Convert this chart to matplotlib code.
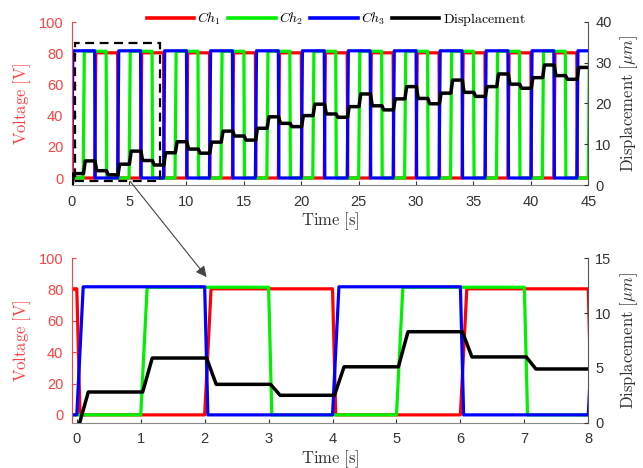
import numpy as np
import matplotlib.pyplot as plt
from matplotlib.patches import Rectangle, ConnectionPatch

plt.rcParams['mathtext.fontset'] = 'cm'
plt.rcParams['font.family'] = ['Liberation Sans', 'DejaVu Sans']

# switching instants of the three channels [s]
ch1_edges = [0, 2, 4, 6, 8, 10, 12, 14, 16, 18, 20, 22, 24, 26, 28, 30, 32, 34, 36, 38, 40, 42, 44]
ch2_edges = [1, 3, 5, 7, 9, 11, 13, 15, 17, 19, 21, 23, 25, 27, 29, 31, 33, 35, 37, 39, 41, 43, 45]
ch3_edges = [0, 2, 4, 6, 8, 10, 12, 14, 16, 18, 20, 22, 24, 26, 28, 30, 32, 34, 36, 38, 40, 42, 44]
# level before the first edge and the "on" voltage [V]
ch1_start, ch1_high = 80.5, 80.5
ch2_start, ch2_high = 0.0, 81.5
ch3_start, ch3_high = 0.0, 81.8

# displacement plateau for each second 0..44 [um]
disp_start = -0.3
disp_levels = [2.8, 5.9, 3.5, 2.5, 5.1, 8.3, 6.0, 4.9,
               7.9, 10.6, 8.8, 7.8, 10.5, 13.2, 12.0, 11.0,
               13.9, 16.7, 15.1, 14.3, 17.0, 19.8, 17.4, 16.6,
               19.2, 22.3, 19.4, 18.4, 21.1, 24.1, 21.2, 19.9,
               22.5, 25.7, 22.7, 21.7, 24.1, 27.2, 24.7, 23.7,
               26.3, 29.4, 26.8, 25.9, 28.8]
disp_times = list(range(len(disp_levels)))

RED, GREEN, BLUE = '#ff0000', '#00f000', '#0000ff'
AXRED = '#ff4040'
GRAY = '#333333'


def square_wave(edges, start, high, t0=-0.1, t1=45.5, rise=0.1, fall=0.05):
    t, v = [t0], [start]
    level = start
    for e in edges:
        new = 0.0 if level > 0 else high
        t += [e, e + (fall if new == 0 else rise)]
        v += [level, new]
        level = new
    t.append(t1)
    v.append(level)
    return t, v


def steps(times, levels, start, t1=45.5, ramp=0.15):
    t, v = [times[0]], [start]
    level = start
    for tt, lv in zip(times, levels):
        t += [tt + 0.03, tt + 0.03 + ramp]
        v += [level, lv]
        level = lv
    t.append(t1)
    v.append(level)
    return t, v


def draw_panel(ax, xlim, xticks, ylim_l, ylim_r, yticks_r):
    for edges, start, high, col, lab in [(ch1_edges, ch1_start, ch1_high, RED, '$Ch_1$'),
                                         (ch2_edges, ch2_start, ch2_high, GREEN, '$Ch_2$'),
                                         (ch3_edges, ch3_start, ch3_high, BLUE, '$Ch_3$')]:
        t, v = square_wave(edges, start, high)
        ax.plot(t, v, color=col, lw=2.3, label=lab)
    ax.set_xlim(*xlim)
    ax.set_ylim(*ylim_l)
    ax.set_xticks(xticks)
    ax.set_yticks([0, 20, 40, 60, 80, 100])
    ax.set_ylabel(r'$\mathrm{Voltage\ [V]}$', color=AXRED, fontsize=12, labelpad=4)
    ax.set_xlabel(r'$\mathrm{Time\ [s]}$', color=GRAY, fontsize=12, labelpad=1)
    ax.tick_params(axis='y', colors=AXRED, direction='in', length=3, labelsize=10.5, pad=6)
    ax.tick_params(axis='x', colors=GRAY, direction='in', length=3, labelsize=10.5, pad=7)
    ax.spines['left'].set_color(AXRED)
    ax.spines['bottom'].set_color('#888888')
    ax.spines['top'].set_visible(False)
    ax.spines['right'].set_visible(False)

    ax2 = ax.twinx()
    t, d = steps(disp_times, disp_levels, disp_start)
    ax2.plot(t, d, color='k', lw=2.5, label=r'$\mathrm{Displacement}$')
    ax2.set_ylim(*ylim_r)
    ax2.set_yticks(yticks_r)
    ax2.set_ylabel(r'$\mathrm{Displacement\ [}\mu m\mathrm{]}$', color=GRAY, fontsize=12, labelpad=5)
    ax2.tick_params(axis='y', colors=GRAY, direction='in', length=3, labelsize=10.5, pad=5)
    ax2.spines['right'].set_color('#555555')
    ax2.spines['top'].set_visible(False)
    ax2.spines['left'].set_visible(False)
    ax2.spines['bottom'].set_visible(False)
    return ax2


fig = plt.figure(figsize=(6.43, 4.68), dpi=100)
ax_top = fig.add_axes([0.1115, 0.6047, 0.8034, 0.3489])
ax_bot = fig.add_axes([0.1115, 0.0968, 0.8034, 0.3513])

ax_top2 = draw_panel(ax_top, (0, 45), list(range(0, 46, 5)), (-4.5, 100.5), (0, 40), [0, 10, 20, 30, 40])
ax_bot2 = draw_panel(ax_bot, (-0.08, 8), list(range(0, 9)), (-5, 100), (0, 15), [0, 5, 10, 15])

h1, l1 = ax_top.get_legend_handles_labels()
h2, l2 = ax_top2.get_legend_handles_labels()
leg = ax_top2.legend(h1 + h2, l1 + l2, loc='center', bbox_to_anchor=(0.512, 1.013), ncol=4,
                     frameon=False, fontsize=10, handlelength=3.4, handletextpad=0.25,
                     columnspacing=0.5, borderaxespad=0)
for line in leg.get_lines():
    line.set_linewidth(2.6)

# zoom window (t0, t1, v0, v1) and arrow to the detail panel
zoom_box = (0.3, 7.7, -2.2, 86.8)
ax_top2.add_patch(Rectangle((zoom_box[0], zoom_box[2]), zoom_box[1] - zoom_box[0],
                            zoom_box[3] - zoom_box[2], transform=ax_top.transData,
                            fill=False, ec='k', lw=1.6, ls=(0, (4, 2.5)), zorder=5))
con = ConnectionPatch(xyA=(5.1, zoom_box[2]), coordsA=ax_top.transData,
                      xyB=(2.03, 88), coordsB=ax_bot.transData,
                      arrowstyle='-|>', color='#444444', lw=0.8, mutation_scale=16)
fig.add_artist(con)

fig.savefig('out.png', dpi=100)
